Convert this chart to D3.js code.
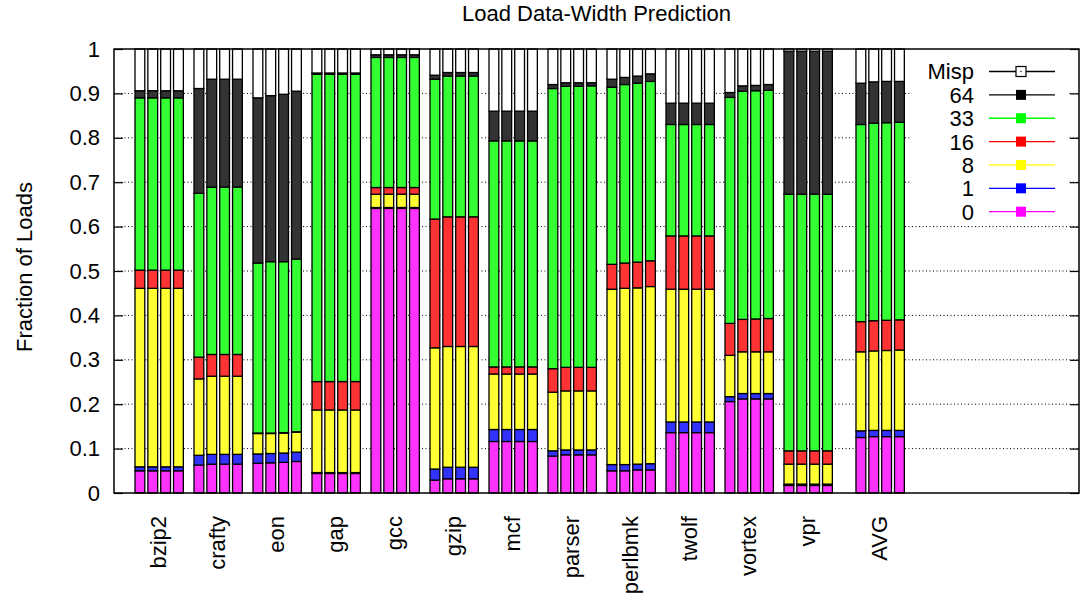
<!DOCTYPE html>
<html>
<head>
<meta charset="utf-8">
<script src="https://cdn.jsdelivr.net/npm/d3@7"></script>
<style>
  html, body { margin: 0; padding: 0; background: #fff; }
  svg { display: block; font-family: "Liberation Sans", Arial, Helvetica, sans-serif; }
</style>
</head>
<body>
<svg id="chart" width="1081" height="601"></svg>
<script>
// Benchmarks (clusters of four bars each)
const categories = ["bzip2", "crafty", "eon", "gap", "gcc", "gzip", "mcf", "parser",
                    "perlbmk", "twolf", "vortex", "vpr", "AVG"];
const yTicks = [0, 0.1, 0.2, 0.3, 0.4, 0.5, 0.6, 0.7, 0.8, 0.9, 1];
const widthKeys = ["0", "1", "8", "16", "33", "64"];
const legendOrder = ["Misp", "64", "33", "16", "8", "1", "0"];

// Fraction of loads predicted at each data width; rows = benchmarks, 4 configurations per row
const w0 = [
  [0.050, 0.050, 0.050, 0.050],
  [0.063, 0.065, 0.065, 0.065],
  [0.067, 0.068, 0.069, 0.071],
  [0.044, 0.044, 0.044, 0.044],
  [0.641, 0.641, 0.641, 0.641],
  [0.029, 0.032, 0.032, 0.032],
  [0.116, 0.116, 0.116, 0.116],
  [0.083, 0.086, 0.086, 0.086],
  [0.050, 0.050, 0.052, 0.052],
  [0.136, 0.136, 0.136, 0.136],
  [0.206, 0.212, 0.212, 0.212],
  [0.017, 0.017, 0.017, 0.017],
  [0.125, 0.127, 0.127, 0.127]
];
const w1 = [
  [0.009, 0.009, 0.009, 0.009],
  [0.022, 0.022, 0.022, 0.022],
  [0.021, 0.021, 0.021, 0.021],
  [0.002, 0.002, 0.002, 0.002],
  [0.002, 0.002, 0.002, 0.002],
  [0.025, 0.026, 0.026, 0.026],
  [0.027, 0.027, 0.027, 0.027],
  [0.012, 0.011, 0.011, 0.011],
  [0.014, 0.014, 0.013, 0.014],
  [0.024, 0.024, 0.024, 0.024],
  [0.011, 0.012, 0.012, 0.012],
  [0.003, 0.003, 0.003, 0.003],
  [0.015, 0.014, 0.014, 0.014]
];
const w8 = [
  [0.402, 0.402, 0.402, 0.402],
  [0.172, 0.176, 0.176, 0.176],
  [0.046, 0.045, 0.045, 0.045],
  [0.141, 0.141, 0.141, 0.141],
  [0.030, 0.030, 0.030, 0.030],
  [0.273, 0.272, 0.272, 0.272],
  [0.125, 0.125, 0.125, 0.125],
  [0.132, 0.133, 0.133, 0.133],
  [0.395, 0.397, 0.397, 0.399],
  [0.299, 0.299, 0.299, 0.299],
  [0.093, 0.094, 0.094, 0.094],
  [0.045, 0.045, 0.045, 0.045],
  [0.178, 0.179, 0.180, 0.181]
];
const w16 = [
  [0.041, 0.041, 0.041, 0.041],
  [0.049, 0.049, 0.049, 0.049],
  [0.001, 0.001, 0.001, 0.001],
  [0.064, 0.064, 0.064, 0.064],
  [0.015, 0.015, 0.015, 0.015],
  [0.290, 0.292, 0.292, 0.292],
  [0.016, 0.016, 0.016, 0.016],
  [0.053, 0.053, 0.053, 0.053],
  [0.056, 0.057, 0.058, 0.058],
  [0.120, 0.120, 0.120, 0.120],
  [0.072, 0.073, 0.074, 0.075],
  [0.030, 0.030, 0.030, 0.030],
  [0.068, 0.068, 0.068, 0.068]
];
const w33 = [
  [0.388, 0.388, 0.388, 0.388],
  [0.369, 0.377, 0.377, 0.377],
  [0.383, 0.386, 0.385, 0.389],
  [0.692, 0.692, 0.692, 0.692],
  [0.293, 0.293, 0.293, 0.293],
  [0.315, 0.317, 0.317, 0.317],
  [0.509, 0.509, 0.509, 0.509],
  [0.631, 0.633, 0.633, 0.634],
  [0.399, 0.402, 0.403, 0.404],
  [0.251, 0.251, 0.251, 0.251],
  [0.509, 0.514, 0.514, 0.514],
  [0.578, 0.578, 0.578, 0.578],
  [0.444, 0.445, 0.445, 0.445]
];
const w64 = [
  [0.016, 0.016, 0.016, 0.016],
  [0.236, 0.243, 0.243, 0.243],
  [0.372, 0.374, 0.377, 0.378],
  [0.003, 0.003, 0.003, 0.003],
  [0.006, 0.006, 0.006, 0.006],
  [0.009, 0.008, 0.008, 0.008],
  [0.067, 0.067, 0.067, 0.067],
  [0.009, 0.008, 0.008, 0.007],
  [0.018, 0.016, 0.016, 0.017],
  [0.048, 0.048, 0.048, 0.048],
  [0.011, 0.012, 0.012, 0.013],
  [0.322, 0.322, 0.322, 0.322],
  [0.093, 0.093, 0.093, 0.092]
];

// Bar fills (80% density) and legend point colours
const fillColor = {
  "0": "#ff33ff", "1": "#3333ff", "8": "#ffff33", "16": "#ff3333",
  "33": "#33ff33", "64": "#333333", "Misp": "#ffffff"
};
const pointColor = {
  "0": "#ff00ff", "1": "#0000ff", "8": "#ffff00", "16": "#ff0000",
  "33": "#00ff00", "64": "#000000", "Misp": "#ffffff"
};

const seriesByKey = { "0": w0, "1": w1, "8": w8, "16": w16, "33": w33, "64": w64 };

// One row per bar; the remainder up to 1 is the mispredicted share
const rows = [];
categories.forEach((cat, g) => {
  for (let b = 0; b < 4; b++) {
    const r = { cat, g, b };
    let sum = 0;
    widthKeys.forEach(k => { r[k] = seriesByKey[k][g][b]; sum += r[k]; });
    r["Misp"] = Math.max(0, 1 - sum);
    rows.push(r);
  }
});

const stackKeys = widthKeys.concat(["Misp"]);
const stacked = d3.stack().keys(stackKeys)(rows);

// Plot frame
const L = 114, R = 1079, T = 49, B = 493;
const FS = 22;
const svg = d3.select("#chart");

const y = d3.scaleLinear().domain([0, 1]).range([B, T]);

// Cluster positions: AVG sits one bar slot further right than the regular spacing
const clusterPos = categories.map((c, i) => i + (c === "AVG" ? 0.22 : 0));
const xCluster = d3.scaleLinear().domain([0, 12]).range([135, 843]);
const barPitch = 12.85, barW = 9.8;
const barX = r => xCluster(clusterPos[r.g]) + r.b * barPitch;

// Grid
svg.append("g").selectAll("line").data(yTicks.filter(t => t > 0 && t < 1)).join("line")
  .attr("x1", L).attr("x2", R)
  .attr("y1", d => y(d)).attr("y2", d => y(d))
  .attr("stroke", "#000").attr("stroke-width", 1)
  .attr("stroke-dasharray", "1,2.5");

// Stacked bars
svg.append("g").selectAll("g").data(stacked).join("g")
  .attr("fill", s => fillColor[s.key])
  .selectAll("rect").data(s => s).join("rect")
  .attr("x", d => barX(d.data))
  .attr("width", barW)
  .attr("y", d => y(d[1]))
  .attr("height", d => Math.max(0, y(d[0]) - y(d[1])))
  .attr("stroke", "#000").attr("stroke-width", 1.3);

// Legend
const legend = svg.append("g");
legend.append("rect").attr("x", 912).attr("y", T + 1).attr("width", 156).attr("height", 172)
  .attr("fill", "#fff");
const rowY = d3.scalePoint().domain(legendOrder).range([71.5, 211.7]);
legendOrder.forEach(k => {
  const yy = rowY(k);
  legend.append("text").attr("x", 974).attr("y", yy).attr("dy", "0.36em")
    .attr("text-anchor", "end").attr("font-size", FS).text(k);
  legend.append("line").attr("x1", 989).attr("x2", 1055).attr("y1", yy).attr("y2", yy)
    .attr("stroke", k === "Misp" ? "#000" : pointColor[k]).attr("stroke-width", 1.3);
  legend.append("rect").attr("x", 1016).attr("y", yy - 5).attr("width", 10).attr("height", 10)
    .attr("fill", pointColor[k])
    .attr("stroke", k === "Misp" ? "#000" : "none").attr("stroke-width", 1.2);
  if (k === "Misp") {
    legend.append("rect").attr("x", 1020.4).attr("y", yy - 0.6).attr("width", 1.2).attr("height", 1.2)
      .attr("fill", "#000");
  }
});

// Axes (ticks pointing inward on both sides)
const yAxis = d3.axisLeft(y).tickValues(yTicks).tickSize(-9).tickPadding(14)
  .tickFormat(d => String(d));
const gy = svg.append("g").attr("transform", `translate(${L},0)`).call(yAxis);
gy.select(".domain").remove();
gy.selectAll("line").attr("stroke", "#000").attr("stroke-width", 1.2);
gy.selectAll("text").attr("font-size", FS).attr("fill", "#000")
  .attr("font-family", "Liberation Sans, Arial, sans-serif");

const gyr = svg.append("g").attr("transform", `translate(${R},0)`)
  .call(d3.axisRight(y).tickValues(yTicks).tickSize(-9).tickFormat(""));
gyr.select(".domain").remove();
gyr.selectAll("line").attr("stroke", "#000").attr("stroke-width", 1.2);

// Frame
svg.append("rect").attr("x", L).attr("y", T).attr("width", R - L).attr("height", B - T)
  .attr("fill", "none").attr("stroke", "#000").attr("stroke-width", 1.5);

// Category labels
svg.append("g").selectAll("text").data(categories).join("text")
  .attr("transform", (c, i) => `translate(${xCluster(clusterPos[i]) + (3 * barPitch + barW) / 2 + 7},516) rotate(-90)`)
  .attr("text-anchor", "end").attr("font-size", FS).text(c => c);

// Title and axis label
svg.append("text").attr("x", (L + R) / 2).attr("y", 21).attr("text-anchor", "middle")
  .attr("font-size", FS).text("Load Data-Width Prediction");
svg.append("text").attr("transform", "translate(32,267) rotate(-90)")
  .attr("text-anchor", "middle").attr("font-size", FS).text("Fraction of Loads");
</script>
</body>
</html>
